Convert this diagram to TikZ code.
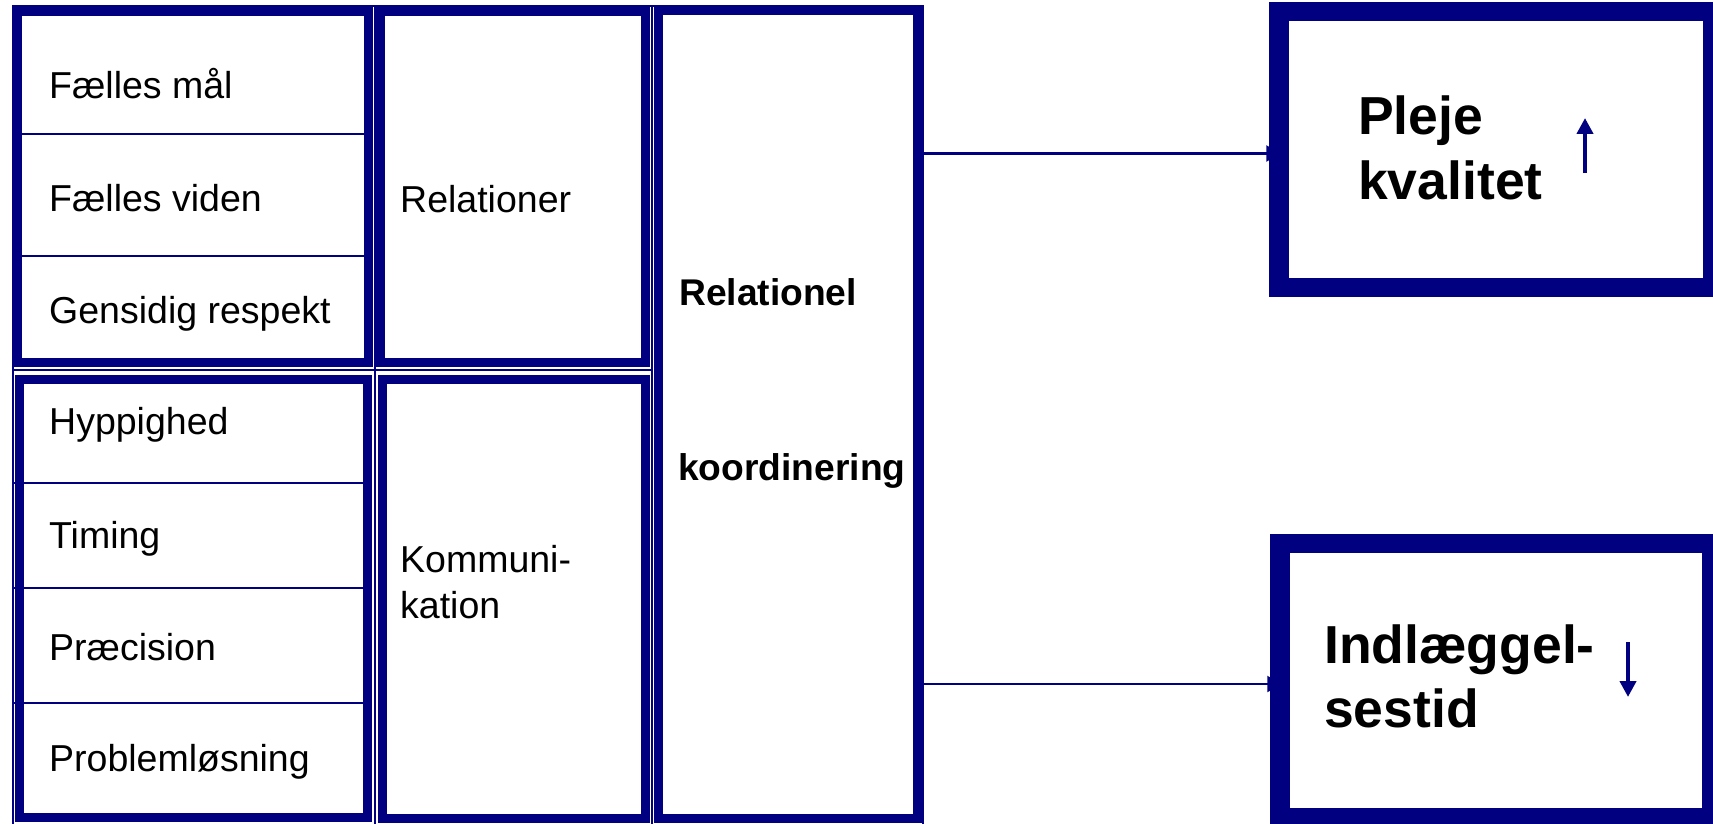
\documentclass[tikz,border=0pt]{standalone}
\usepackage{fontspec}
\setmainfont{Liberation Sans}
\usetikzlibrary{arrows.meta,calc}
\definecolor{deepnavy}{RGB}{0,0,128}
\pgfdeclarelayer{background}
\pgfsetlayers{background,main}

\begin{document}
\begin{tikzpicture}[x=1pt,y=-1pt,
  gridline/.style={draw=deepnavy,line width=2pt},
  colbox/.style={draw=deepnavy,line width=9pt,rectangle,inner sep=0pt,outer sep=4.5pt},
  outbox/.style={draw=deepnavy,line width=19.5pt,rectangle,inner sep=0pt,outer sep=9.75pt},
  item/.style={anchor=base west,inner sep=0pt,font=\fontsize{37.5}{45}\selectfont},
  keyword/.style={anchor=base west,inner sep=0pt,font=\bfseries\fontsize{37.2}{45}\selectfont},
  result/.style={anchor=base west,inner sep=0pt,font=\bfseries\fontsize{53.5}{64}\selectfont},
  link/.style={draw=deepnavy,line width=2.5pt,-{Triangle[length=14pt,width=16pt]}},
  trend/.style={draw=deepnavy,line width=4.5pt,-{Triangle[length=16pt,width=16pt]}}]

% page and clipping
\useasboundingbox (0,0) rectangle (1713,824);
\clip (0,0) rectangle (1713,824);
\begin{pgfonlayer}{background}
\fill[white] (0,0) rectangle (1713,824);
\end{pgfonlayer}

% thin table frame behind the three columns
\draw[gridline] (12.5,824) -- (12.5,6) -- (922.5,6) -- (922.5,824);
\draw[gridline] (374.5,6) -- (374.5,824);
\draw[gridline] (652,6) -- (652,824);
\draw[gridline] (12.5,370) -- (652,370);

% column 1: dimensions
\node[colbox, minimum width=350.5pt, minimum height=350.5pt] (dimrel) at (192.75,186.75) {};
\node[colbox, minimum width=348.5pt, minimum height=438.5pt] (dimcom) at (193.25,598.25) {};
\draw[gridline] (12.5,134) -- (dimrel.east |- 0,134);
\draw[gridline] (12.5,256) -- (dimrel.east |- 0,256);
\draw[gridline] (12.5,483) -- (dimcom.east |- 0,483);
\draw[gridline] (12.5,588) -- (dimcom.east |- 0,588);
\draw[gridline] (12.5,703) -- (dimcom.east |- 0,703);

\node[item] (goal)  at (49,99)  {Fælles mål};
\node[item] (know)  at (49,211) {Fælles viden};
\node[item] (resp)  at (49,323) {Gensidig respekt};
\node[item] (freq)  at (49,434) {Hyppighed};
\node[item] (time)  at (49,548) {Timing};
\node[item] (prec)  at (49,660) {Præcision};
\node[item] (solve) at (49,771) {Problemløsning};

% column 2: groups
\node[colbox, minimum width=264.5pt, minimum height=350.5pt] (relbox) at (512.75,186.75) {};
\node[colbox, minimum width=262.5pt, minimum height=439.5pt] (combox) at (513.75,598.75) {};
\node[item] (reltxt) at (400,212) {Relationer};
\node[item] (comtxt1) at (400,572) {Kommuni-};
\node[item] (comtxt2) at (400,618) {kation};

% column 3: relational coordination
\node[colbox, minimum width=259pt, minimum height=807.5pt] (rcbox) at (787.5,414.75) {};
\node[keyword] (rctxt1) at (679,305) {Relationel};
\node[keyword] (rctxt2) at (678,480) {koordinering};

% outcomes
\node[outbox, minimum width=433.5pt, minimum height=276pt] (pleje) at (1495.75,149.5) {};
\node[outbox, minimum width=431.5pt, minimum height=274.5pt] (indl) at (1495.75,680.75) {};
\node[result] (plejetxt1) at (1358,135) {Pleje};
\node[result] (plejetxt2) at (1358,199) {kvalitet};
\node[result] (indltxt1) at (1324,663) {Indlæggel-};
\node[result] (indltxt2) at (1324,727) {sestid};

% connectors from the coordination column to the outcomes
\coordinate (tapA) at (922.5,153.5);
\coordinate (tapB) at (922.5,684);
\begin{pgfonlayer}{background}
\draw[link, shorten >=-11pt] (tapA) -- (tapA -| pleje.west);
\draw[link, shorten >=-11pt] (tapB) -- (tapB -| indl.west);
\end{pgfonlayer}

% trend arrows
\coordinate (upA) at (1585,173);
\coordinate (upB) at (1585,118);
\draw[trend] (upA) -- (upB);
\coordinate (dnA) at (1628,642);
\coordinate (dnB) at (1628,697);
\draw[trend] (dnA) -- (dnB);
\end{tikzpicture}
\end{document}
